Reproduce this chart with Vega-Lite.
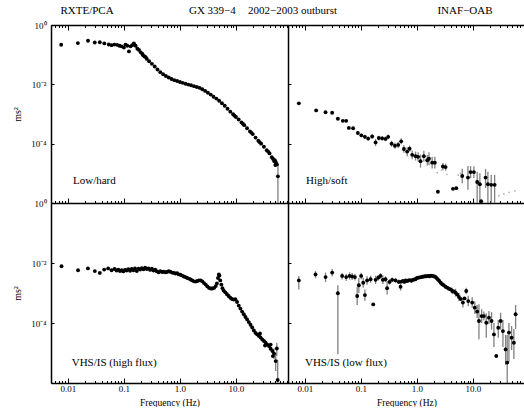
{
"$schema":"https://vega.github.io/schema/vega-lite/v6.json",
"background":"white",
"padding":{"left":12,"top":5,"right":0,"bottom":0},
"config":{"font":"Liberation Serif","view":{"stroke":null},
"axis":{"domainColor":"black","domainWidth":1.5,"tickColor":"black","tickWidth":1,"labelColor":"black","labelFontSize":9,"titleColor":"black","titleFontWeight":"normal","titleFontSize":10,"grid":false},
"text":{"color":"black"}},
"datasets":{
"lh":[
{"f":0.0076,"p":0.215},{"f":0.0151,"p":0.245},{"f":0.0229,"p":0.295},{"f":0.0302,"p":0.257},{"f":0.0372,"p":0.263},{"f":0.0447,"p":0.240},{"f":0.0537,"p":0.221},{"f":0.0603,"p":0.209},{"f":0.0676,"p":0.219},{"f":0.0759,"p":0.214},{"f":0.0832,"p":0.200},{"f":0.0912,"p":0.191},{"f":0.100,"p":0.174},{"f":0.107,"p":0.219},{"f":0.115,"p":0.200},{"f":0.123,"p":0.129},{"f":0.132,"p":0.191},{"f":0.141,"p":0.209},{"f":0.151,"p":0.240},{"f":0.162,"p":0.200},{"f":0.174,"p":0.158},{"f":0.186,"p":0.145},{"f":0.200,"p":0.120},{"f":0.214,"p":0.105},{"f":0.22,"p":0.095},{"f":0.234,"p":0.087},{"f":0.245,"p":0.083},{"f":0.257,"p":0.072},{"f":0.282,"p":0.060},{"f":0.316,"p":0.049},{"f":0.355,"p":0.040},{"f":0.398,"p":0.0316},{"f":0.447,"p":0.0257},{"f":0.501,"p":0.0219},{"f":0.562,"p":0.0191},{"f":0.631,"p":0.0170},{"f":0.708,"p":0.0151},{"f":0.794,"p":0.0138},{"f":0.891,"p":0.0129},{"f":1.00,"p":0.0120},{"f":1.12,"p":0.0112},{"f":1.26,"p":0.0105},{"f":1.41,"p":0.0098},{"f":1.58,"p":0.0093},{"f":1.78,"p":0.0087},{"f":2.00,"p":0.0081},{"f":2.24,"p":0.0076},{"f":2.51,"p":0.0068},{"f":2.82,"p":0.0060},{"f":3.16,"p":0.0052},{"f":3.55,"p":0.0045},{"f":3.98,"p":0.0038},{"f":4.47,"p":0.0033},{"f":5.01,"p":0.0028},{"f":5.62,"p":0.0023},{"f":6.31,"p":0.0019},{"f":7.08,"p":0.0015},{"f":7.94,"p":0.0012},{"f":8.91,"p":0.00098},{"f":9.4,"p":0.00088},{"f":10.0,"p":0.00079},{"f":11.2,"p":0.00065},{"f":12.6,"p":0.00052},{"f":13.3,"p":0.00047},{"f":14.1,"p":0.00042},{"f":15.8,"p":0.00033},{"f":17.8,"p":0.00026},{"f":18.8,"p":0.000235},{"f":20.0,"p":0.00021},{"f":22.4,"p":0.00016},{"f":25.1,"p":0.000126},{"f":26.6,"p":0.000112},{"f":28.2,"p":0.000100},{"f":31.6,"p":0.000079},{"f":35.5,"p":0.000060},{"f":37.6,"p":0.000054},{"f":39.8,"p":0.000047},{"f":43.7,"p":0.000035},{"f":45.7,"p":0.000031},{"f":47.9,"p":0.000026},{"f":49.5,"p":0.000028},{"f":50.5,"p":0.000019},{"f":51.3,"p":0.000024},{"f":52.5,"p":0.000021},{"f":53.7,"p":0.000020},{"f":56.2,"p":0.0000079,"lo":0.000001,"hi":0.00002}
],
"hs":[
{"f":0.0078,"p":0.00229},{"f":0.0159,"p":0.00132},{"f":0.0234,"p":0.00115},{"f":0.0307,"p":0.00110},{"f":0.0388,"p":0.000692},{"f":0.0476,"p":0.000589},{"f":0.0546,"p":0.000589},{"f":0.0610,"p":0.000339},{"f":0.0726,"p":0.000331},
{"f":0.0883,"p":0.000229,"lo":0.000199,"hi":0.000263},{"f":0.102,"p":0.000191,"lo":0.000166,"hi":0.000219},{"f":0.118,"p":0.000170,"lo":0.000145,"hi":0.000200},{"f":0.135,"p":0.000148,"lo":0.000126,"hi":0.000174},{"f":0.159,"p":0.000174,"lo":0.000148,"hi":0.000204},{"f":0.183,"p":0.000110,"lo":0.000083,"hi":0.000145},{"f":0.209,"p":0.000155,"lo":0.000129,"hi":0.000186},{"f":0.240,"p":0.000151,"lo":0.000126,"hi":0.000182},{"f":0.275,"p":0.000145,"lo":0.000121,"hi":0.000174},{"f":0.307,"p":0.000170,"lo":0.000141,"hi":0.000204},{"f":0.353,"p":0.000100,"lo":0.000079,"hi":0.000126},{"f":0.405,"p":0.000085,"lo":0.000068,"hi":0.000107},{"f":0.463,"p":0.000091,"lo":0.000072,"hi":0.000115},{"f":0.524,"p":0.000120,"lo":0.000095,"hi":0.000151},{"f":0.586,"p":0.000066,"lo":0.000049,"hi":0.000089},{"f":0.670,"p":0.000054,"lo":0.000038,"hi":0.000076},{"f":0.740,"p":0.000068,"lo":0.000054,"hi":0.000086},{"f":0.824,"p":0.000042,"lo":0.000030,"hi":0.000059},{"f":0.946,"p":0.000038,"lo":0.000027,"hi":0.000054},{"f":1.05,"p":0.000036,"lo":0.000025,"hi":0.000051},{"f":1.16,"p":0.0000257,"lo":0.0000155,"hi":0.0000427},{"f":1.33,"p":0.000038,"lo":0.000025,"hi":0.000058},{"f":1.53,"p":0.0000275,"lo":0.0000182,"hi":0.0000416},{"f":1.64,"p":0.000031,"lo":0.0000187,"hi":0.000051},{"f":1.87,"p":0.0000229,"lo":0.0000145,"hi":0.0000363},{"f":2.09,"p":0.0000229,"lo":0.0000145,"hi":0.0000363},{"f":2.37,"p":0.0000024},{"f":2.91,"p":0.000017,"lo":0.0000129,"hi":0.0000224},{"f":3.25,"p":0.0000162,"lo":0.0000123,"hi":0.0000214},{"f":4.40,"p":0.0000030},{"f":5.04,"p":0.00000316},{"f":6.44,"p":0.0000081,"lo":0.0000046,"hi":0.0000144},{"f":8.15,"p":0.0000072,"lo":0.0000028,"hi":0.0000178},{"f":9.08,"p":0.000011,"lo":0.0000069,"hi":0.0000174},{"f":10.4,"p":0.000011,"lo":0.0000069,"hi":0.0000174},{"f":11.9,"p":0.0000051,"lo":0.000001,"hi":0.0000112},{"f":13.3,"p":0.0000043,"lo":0.000001,"hi":0.00001},{"f":14.0,"p":0.00000115},{"f":16.8,"p":0.0000072,"lo":0.0000032,"hi":0.0000141},{"f":18.5,"p":0.0000043,"lo":0.000001,"hi":0.0000112},{"f":21.2,"p":0.0000041,"lo":0.000001,"hi":0.0000089},{"f":24.4,"p":0.0000041,"lo":0.000001,"hi":0.0000089}
],
"hs_faint":[
{"f":2.31,"p":0.0000105},{"f":2.76,"p":0.0000129},{"f":3.43,"p":0.0000093},{"f":5.46,"p":0.0000087},{"f":6.0,"p":0.0000100},{"f":29.1,"p":0.00000174},{"f":35.7,"p":0.0000020},{"f":44.0,"p":0.0000023},{"f":56.2,"p":0.00000257}
],
"vh":[
{"f":0.00771,"p":0.00776},{"f":0.0152,"p":0.00575},{"f":0.0228,"p":0.00661},{"f":0.0303,"p":0.00537},{"f":0.0372,"p":0.00468},{"f":0.0445,"p":0.00603},{"f":0.0524,"p":0.00661},{"f":0.0603,"p":0.00575},{"f":0.0681,"p":0.00631},{"f":0.0741,"p":0.00562},{"f":0.0794,"p":0.00603},{"f":0.0851,"p":0.00537},{"f":0.0912,"p":0.00575},{"f":0.0977,"p":0.00525},{"f":0.1047,"p":0.00589},{"f":0.112,"p":0.00562},{"f":0.120,"p":0.00617},{"f":0.129,"p":0.00550},{"f":0.138,"p":0.00631},{"f":0.148,"p":0.00575},{"f":0.158,"p":0.00661},{"f":0.170,"p":0.00537},{"f":0.182,"p":0.00646},{"f":0.195,"p":0.00603},{"f":0.209,"p":0.00676},{"f":0.224,"p":0.00617},{"f":0.240,"p":0.00692},{"f":0.257,"p":0.00631},{"f":0.275,"p":0.00661},{"f":0.295,"p":0.00589},{"f":0.316,"p":0.00646},{"f":0.339,"p":0.00562},{"f":0.363,"p":0.00603},{"f":0.389,"p":0.00525},{"f":0.417,"p":0.00490},{"f":0.447,"p":0.00537},{"f":0.479,"p":0.00501},{"f":0.513,"p":0.00513},{"f":0.550,"p":0.00490},{"f":0.589,"p":0.00501},{"f":0.631,"p":0.00537},{"f":0.676,"p":0.00513},{"f":0.724,"p":0.00479},{"f":0.776,"p":0.00468},{"f":0.832,"p":0.00447},{"f":0.891,"p":0.00457},{"f":0.955,"p":0.00417},{"f":1.023,"p":0.00407},{"f":1.096,"p":0.00380},{"f":1.175,"p":0.00355},{"f":1.259,"p":0.00339},{"f":1.349,"p":0.00316},{"f":1.445,"p":0.00302},{"f":1.549,"p":0.00282},{"f":1.660,"p":0.00263},{"f":1.778,"p":0.00245},{"f":1.905,"p":0.00240},{"f":2.042,"p":0.00251},{"f":2.188,"p":0.00263},{"f":2.344,"p":0.00263},{"f":2.512,"p":0.00245},{"f":2.692,"p":0.00214},{"f":2.884,"p":0.00191},{"f":3.090,"p":0.00166},{"f":3.311,"p":0.00148},{"f":3.548,"p":0.00141},{"f":3.802,"p":0.00141},{"f":4.074,"p":0.00148},{"f":4.365,"p":0.00170},{"f":4.571,"p":0.00209},{"f":4.786,"p":0.00316},{"f":4.955,"p":0.00417},{"f":5.070,"p":0.00380},{"f":5.248,"p":0.00263},{"f":5.495,"p":0.00191},{"f":5.754,"p":0.00145},{"f":6.026,"p":0.00120},{"f":6.457,"p":0.00105},{"f":6.918,"p":0.000912},{"f":7.413,"p":0.000794},{"f":7.943,"p":0.000692},{"f":8.511,"p":0.000631},{"f":9.120,"p":0.000603},{"f":9.772,"p":0.000617},{"f":10.47,"p":0.000501},{"f":11.22,"p":0.000380},{"f":12.02,"p":0.000302},{"f":12.88,"p":0.000240},{"f":13.80,"p":0.000195},{"f":14.79,"p":0.000158},{"f":15.85,"p":0.000132},{"f":16.98,"p":0.000107},{"f":18.20,"p":0.0000871},{"f":19.50,"p":0.0000708},{"f":20.89,"p":0.0000562},{"f":22.39,"p":0.0000468},{"f":23.99,"p":0.0000417},{"f":25.70,"p":0.0000372},{"f":26.9,"p":0.0000447},{"f":27.54,"p":0.0000331},{"f":29.51,"p":0.0000282},{"f":31.62,"p":0.0000251},{"f":33.1,"p":0.0000178},{"f":33.88,"p":0.0000219},{"f":36.31,"p":0.0000191},{"f":38.90,"p":0.0000170},{"f":41.69,"p":0.0000138},{"f":41.7,"p":0.0000191},{"f":44.67,"p":0.0000117},{"f":45.7,"p":0.0000079},{"f":47.86,"p":0.00000955,"lo":0.0000063,"hi":0.0000145},{"f":51.29,"p":0.00000537,"lo":0.0000025,"hi":0.00001},{"f":53.70,"p":0.0000141,"lo":0.000008,"hi":0.000022},{"f":55.6,"p":0.00000126,"lo":0.000001,"hi":0.000006}
],
"vl":[
{"f":0.0078,"p":0.00263,"lo":0.00132,"hi":0.00372},{"f":0.0155,"p":0.00417,"lo":0.00309,"hi":0.00537},{"f":0.0234,"p":0.00339,"lo":0.00234,"hi":0.00479},{"f":0.0307,"p":0.00479,"lo":0.00355,"hi":0.00631},{"f":0.0388,"p":0.000977,"lo":0.0000091,"hi":0.00182},{"f":0.0463,"p":0.00372,"lo":0.00282,"hi":0.00468},{"f":0.0546,"p":0.00339,"lo":0.0025,"hi":0.0044},{"f":0.0628,"p":0.00372,"lo":0.0028,"hi":0.0049},{"f":0.0698,"p":0.00355,"lo":0.0027,"hi":0.0046},{"f":0.0782,"p":0.00339,"lo":0.0026,"hi":0.0044},{"f":0.0859,"p":0.000794,"lo":0.000398,"hi":0.00158},{"f":0.0920,"p":0.00182,"lo":0.0010,"hi":0.00316},{"f":0.101,"p":0.00372,"lo":0.0029,"hi":0.0047},{"f":0.110,"p":0.00219,"lo":0.0015,"hi":0.0032},{"f":0.118,"p":0.000851,"lo":0.00055,"hi":0.0013},{"f":0.129,"p":0.00263,"lo":0.0019,"hi":0.0036},{"f":0.149,"p":0.00288,"lo":0.0022,"hi":0.0038},{"f":0.166,"p":0.000417},{"f":0.183,"p":0.00275,"lo":0.0020,"hi":0.0038},{"f":0.204,"p":0.00324,"lo":0.0026,"hi":0.0040},{"f":0.224,"p":0.00372,"lo":0.0030,"hi":0.0046},{"f":0.247,"p":0.00275,"lo":0.0020,"hi":0.0038},{"f":0.275,"p":0.00288,"lo":0.0023,"hi":0.0036},{"f":0.294,"p":0.00145,"lo":0.00089,"hi":0.0025},{"f":0.325,"p":0.00234,"lo":0.0019,"hi":0.0029},{"f":0.362,"p":0.00275,"lo":0.0023,"hi":0.0033},{"f":0.416,"p":0.00263,"lo":0.0022,"hi":0.0031},{"f":0.476,"p":0.00234,"lo":0.0020,"hi":0.0028},{"f":0.511,"p":0.00162,"lo":0.0012,"hi":0.0022},
{"f":0.531,"p":0.00240},{"f":0.562,"p":0.00251},{"f":0.596,"p":0.00234},{"f":0.631,"p":0.00263},{"f":0.668,"p":0.00251},{"f":0.708,"p":0.00263},{"f":0.750,"p":0.00269},{"f":0.794,"p":0.00257},{"f":0.841,"p":0.00275},{"f":0.891,"p":0.00282},{"f":0.944,"p":0.00288},{"f":1.0,"p":0.00316},{"f":1.059,"p":0.00324},{"f":1.122,"p":0.00331},{"f":1.189,"p":0.00339},{"f":1.259,"p":0.00347},{"f":1.334,"p":0.00355},{"f":1.413,"p":0.00363},{"f":1.496,"p":0.00363},{"f":1.585,"p":0.00372},{"f":1.679,"p":0.00363},{"f":1.778,"p":0.00380},{"f":1.884,"p":0.00372},{"f":1.995,"p":0.00363},{"f":2.113,"p":0.00347},{"f":2.239,"p":0.00316},{"f":2.371,"p":0.00282},{"f":2.512,"p":0.00251},{"f":2.661,"p":0.00219},{"f":2.83,"p":0.00195},{"f":3.02,"p":0.00182},{"f":3.24,"p":0.00162},{"f":3.48,"p":0.00151},{"f":3.72,"p":0.00138},{"f":3.99,"p":0.00132},{"f":4.27,"p":0.00117,"lo":0.0009,"hi":0.0015},{"f":4.57,"p":0.00112},{"f":4.90,"p":0.00102,"lo":0.00076,"hi":0.00138},{"f":5.25,"p":0.00089},{"f":5.62,"p":0.000741,"lo":0.00055,"hi":0.0010},{"f":6.03,"p":0.00063},{"f":6.62,"p":0.000479,"lo":0.00033,"hi":0.00069},{"f":7.08,"p":0.00066},{"f":7.59,"p":0.00117,"lo":0.00091,"hi":0.0015},{"f":8.24,"p":0.000537,"lo":0.00036,"hi":0.00081},{"f":9.70,"p":0.000479,"lo":0.00032,"hi":0.00072},{"f":10.8,"p":0.000324,"lo":0.0002,"hi":0.00052},{"f":11.9,"p":0.00024,"lo":0.000145,"hi":0.0004},{"f":12.8,"p":0.000117,"lo":0.000029,"hi":0.00042},{"f":14.3,"p":0.00017,"lo":0.0001,"hi":0.00029},{"f":15.7,"p":0.00017,"lo":0.00012,"hi":0.00024},{"f":17.3,"p":0.000102,"lo":0.000032,"hi":0.00021},{"f":19.3,"p":0.000151,"lo":0.00009,"hi":0.00025},{"f":21.5,"p":0.000117,"lo":0.00006,"hi":0.00023},{"f":23.7,"p":0.0000417,"lo":0.000016,"hi":0.0001},{"f":26.1,"p":0.00000794},{"f":28.3,"p":0.0000692,"lo":0.000032,"hi":0.000126},{"f":31.2,"p":0.000117,"lo":0.00006,"hi":0.00022},{"f":34.3,"p":0.0000537,"lo":0.000016,"hi":0.000126},{"f":38.3,"p":0.0000132,"lo":0.000004,"hi":0.00004},{"f":40.9,"p":0.00000479,"lo":0.000001,"hi":0.00004},{"f":43.9,"p":0.0000479,"lo":0.000005,"hi":0.0001},{"f":49.0,"p":0.0000324,"lo":0.0000126,"hi":0.000079},{"f":53.8,"p":0.0000219,"lo":0.0000063,"hi":0.000063},{"f":57.8,"p":0.000195,"lo":0.000063,"hi":0.0004}
]
},
"columns":2,
"spacing":0,
"bounds":"flush",
"concat":[
{"width":237,"height":178,"resolve":{"axis":{"x":"independent"}},
"layer":[
{"data":{"name":"lh"},"transform":[{"filter":"isValid(datum.lo)"}],"mark":{"type":"rule","color":"#808080","strokeWidth":1.3,"clip":true},
"encoding":{"x":{"field":"f","type":"quantitative","scale":{"type":"log","domain":[0.005,85],"nice":false},"axis":{"orient":"top","values":[0.005,0.006,0.007,0.008,0.009,0.01,0.02,0.03,0.04,0.05,0.06,0.07,0.08,0.09,0.1,0.2,0.3,0.4,0.5,0.6,0.7,0.8,0.9,1,2,3,4,5,6,7,8,9,10,20,30,40,50,60,70,80],"labels":false,"title":null,"tickSize":{"condition":{"test":"datum.value==0.01||datum.value==0.1||datum.value==1||datum.value==10","value":-5},"value":-2.5}}},
"y":{"field":"lo","type":"quantitative","scale":{"type":"log","domain":[0.000001,1],"nice":false},"title":"ms²"},"y2":{"field":"hi"}}},
{"data":{"name":"lh"},"mark":{"type":"circle","color":"black","size":15,"opacity":1,"clip":true},
"encoding":{"x":{"field":"f","type":"quantitative","scale":{"type":"log","domain":[0.005,85],"nice":false},"axis":{"orient":"bottom","values":[0.005,0.006,0.007,0.008,0.009,0.01,0.02,0.03,0.04,0.05,0.06,0.07,0.08,0.09,0.1,0.2,0.3,0.4,0.5,0.6,0.7,0.8,0.9,1,2,3,4,5,6,7,8,9,10,20,30,40,50,60,70,80],"labels":false,"title":null,"tickSize":{"condition":{"test":"datum.value==0.01||datum.value==0.1||datum.value==1||datum.value==10","value":-5},"value":-2.5}}},
"y":{"field":"p","type":"quantitative","scale":{"type":"log","domain":[0.000001,1],"nice":false},"axis":{"orient":"left","values":[1,0.01,0.0001,0.000001],"labelExpr":"datum.value==1?'10⁰':datum.value==0.01?'10⁻²':datum.value==0.0001?'10⁻⁴':''","labelOverlap":false,"labelFlush":false,"labelPadding":8,"tickSize":-3,"title":"ms²","titlePadding":8}}}},
{"data":{"values":[{}]},"mark":{"type":"text","text":"Low/hard","align":"left","baseline":"middle","fontSize":11},"encoding":{"x":{"datum":0.01236,"type":"quantitative","axis":null},"y":{"datum":0.00000541,"type":"quantitative"}}},
{"data":{"values":[{}]},"mark":{"type":"text","text":"RXTE/PCA","align":"center","baseline":"middle","fontSize":11,"clip":false},"encoding":{"x":{"datum":0.022,"type":"quantitative","axis":null},"y":{"datum":2.93,"type":"quantitative"}}},
{"data":{"values":[{}]},"mark":{"type":"text","text":"GX 339−4","align":"left","baseline":"middle","fontSize":11,"clip":false},"encoding":{"x":{"datum":1.45,"type":"quantitative","axis":null},"y":{"datum":2.93,"type":"quantitative"}}},
{"data":{"values":[{}]},"mark":{"type":"text","text":"2002−2003 outburst","align":"left","baseline":"middle","fontSize":11,"clip":false},"encoding":{"x":{"datum":16.4,"type":"quantitative","axis":null},"y":{"datum":2.93,"type":"quantitative"}}}
]},
{"width":237,"height":178,"resolve":{"axis":{"x":"independent"}},
"layer":[
{"data":{"name":"hs"},"transform":[{"filter":"isValid(datum.lo)"}],"mark":{"type":"rule","color":"#808080","strokeWidth":1.3,"clip":true},
"encoding":{"x":{"field":"f","type":"quantitative","scale":{"type":"log","domain":[0.005,85],"nice":false},"axis":{"orient":"top","values":[0.005,0.006,0.007,0.008,0.009,0.01,0.02,0.03,0.04,0.05,0.06,0.07,0.08,0.09,0.1,0.2,0.3,0.4,0.5,0.6,0.7,0.8,0.9,1,2,3,4,5,6,7,8,9,10,20,30,40,50,60,70,80],"labels":false,"title":null,"tickSize":{"condition":{"test":"datum.value==0.01||datum.value==0.1||datum.value==1||datum.value==10","value":-5},"value":-2.5}}},
"y":{"field":"lo","type":"quantitative","scale":{"type":"log","domain":[0.000001,1],"nice":false},"title":null},"y2":{"field":"hi"}}},
{"data":{"name":"hs_faint"},"mark":{"type":"circle","color":"#b0b0b0","size":3,"opacity":1,"clip":true},
"encoding":{"x":{"field":"f","type":"quantitative","axis":null},"y":{"field":"p","type":"quantitative","title":null}}},
{"data":{"name":"hs"},"mark":{"type":"circle","color":"black","size":15,"opacity":1,"clip":true},
"encoding":{"x":{"field":"f","type":"quantitative","scale":{"type":"log","domain":[0.005,85],"nice":false},"axis":{"orient":"bottom","values":[0.005,0.006,0.007,0.008,0.009,0.01,0.02,0.03,0.04,0.05,0.06,0.07,0.08,0.09,0.1,0.2,0.3,0.4,0.5,0.6,0.7,0.8,0.9,1,2,3,4,5,6,7,8,9,10,20,30,40,50,60,70,80],"labels":false,"title":null,"tickSize":{"condition":{"test":"datum.value==0.01||datum.value==0.1||datum.value==1||datum.value==10","value":-5},"value":-2.5}}},
"y":{"field":"p","type":"quantitative","scale":{"type":"log","domain":[0.000001,1],"nice":false},"axis":{"orient":"left","values":[1,0.01,0.0001,0.000001],"labels":false,"tickSize":-3,"title":null}}}},
{"data":{"values":[{}]},"mark":{"type":"text","text":"High/soft","align":"left","baseline":"middle","fontSize":11},"encoding":{"x":{"datum":0.01047,"type":"quantitative","axis":null},"y":{"datum":0.00000541,"type":"quantitative"}}},
{"data":{"values":[{}]},"mark":{"type":"text","text":"INAF−OAB","align":"center","baseline":"middle","fontSize":11,"clip":false},"encoding":{"x":{"datum":7.21,"type":"quantitative","axis":null},"y":{"datum":2.93,"type":"quantitative"}}}
]},
{"width":237,"height":180,
"layer":[
{"data":{"name":"vh"},"transform":[{"filter":"isValid(datum.lo)"}],"mark":{"type":"rule","color":"#808080","strokeWidth":1.3,"clip":true},
"encoding":{"x":{"field":"f","type":"quantitative","scale":{"type":"log","domain":[0.005,85],"nice":false},"title":"Frequency (Hz)"},
"y":{"field":"lo","type":"quantitative","scale":{"type":"log","domain":[0.000001,1],"nice":false},"title":"ms²"},"y2":{"field":"hi"}}},
{"data":{"name":"vh"},"mark":{"type":"circle","color":"black","size":15,"opacity":1,"clip":true},
"encoding":{"x":{"field":"f","type":"quantitative","scale":{"type":"log","domain":[0.005,85],"nice":false},"axis":{"orient":"bottom","values":[0.005,0.006,0.007,0.008,0.009,0.01,0.02,0.03,0.04,0.05,0.06,0.07,0.08,0.09,0.1,0.2,0.3,0.4,0.5,0.6,0.7,0.8,0.9,1,2,3,4,5,6,7,8,9,10,20,30,40,50,60,70,80],"labelExpr":"datum.value==0.01?'0.01':datum.value==0.1?'0.1':datum.value==1?'1.0':datum.value==10?'10.0':''","labelOverlap":false,"labelFlush":false,"labelPadding":6,"tickSize":{"condition":{"test":"datum.value==0.01||datum.value==0.1||datum.value==1||datum.value==10","value":-5},"value":-2.5},"title":"Frequency (Hz)","titleFontSize":9.5,"titlePadding":2}},
"y":{"field":"p","type":"quantitative","scale":{"type":"log","domain":[0.000001,1],"nice":false},"axis":{"orient":"left","values":[1,0.01,0.0001,0.000001],"labelExpr":"datum.value==1?'10⁰':datum.value==0.01?'10⁻²':datum.value==0.0001?'10⁻⁴':''","labelOverlap":false,"labelFlush":false,"labelPadding":8,"tickSize":-3,"title":"ms²","titlePadding":8}}}},
{"data":{"values":[{}]},"mark":{"type":"text","text":"VHS/IS (high flux)","align":"left","baseline":"middle","fontSize":11},"encoding":{"x":{"datum":0.0117,"type":"quantitative"},"y":{"datum":0.0000045,"type":"quantitative"}}}
]},
{"width":237,"height":180,
"layer":[
{"data":{"name":"vl"},"transform":[{"filter":"isValid(datum.lo)"}],"mark":{"type":"rule","color":"#808080","strokeWidth":1.3,"clip":true},
"encoding":{"x":{"field":"f","type":"quantitative","scale":{"type":"log","domain":[0.005,85],"nice":false},"title":"Frequency (Hz)"},
"y":{"field":"lo","type":"quantitative","scale":{"type":"log","domain":[0.000001,1],"nice":false},"title":null},"y2":{"field":"hi"}}},
{"data":{"name":"vl"},"mark":{"type":"circle","color":"black","size":15,"opacity":1,"clip":true},
"encoding":{"x":{"field":"f","type":"quantitative","scale":{"type":"log","domain":[0.005,85],"nice":false},"axis":{"orient":"bottom","values":[0.005,0.006,0.007,0.008,0.009,0.01,0.02,0.03,0.04,0.05,0.06,0.07,0.08,0.09,0.1,0.2,0.3,0.4,0.5,0.6,0.7,0.8,0.9,1,2,3,4,5,6,7,8,9,10,20,30,40,50,60,70,80],"labelExpr":"datum.value==0.01?'0.01':datum.value==0.1?'0.1':datum.value==1?'1.0':datum.value==10?'10.0':''","labelOverlap":false,"labelFlush":false,"labelPadding":6,"tickSize":{"condition":{"test":"datum.value==0.01||datum.value==0.1||datum.value==1||datum.value==10","value":-5},"value":-2.5},"title":"Frequency (Hz)","titleFontSize":9.5,"titlePadding":2}},
"y":{"field":"p","type":"quantitative","scale":{"type":"log","domain":[0.000001,1],"nice":false},"axis":{"orient":"left","values":[1,0.01,0.0001,0.000001],"labels":false,"tickSize":-3,"title":null}}}},
{"data":{"values":[{}]},"mark":{"type":"text","text":"VHS/IS (low flux)","align":"left","baseline":"middle","fontSize":11},"encoding":{"x":{"datum":0.01005,"type":"quantitative"},"y":{"datum":0.0000045,"type":"quantitative"}}}
]}
]
}
